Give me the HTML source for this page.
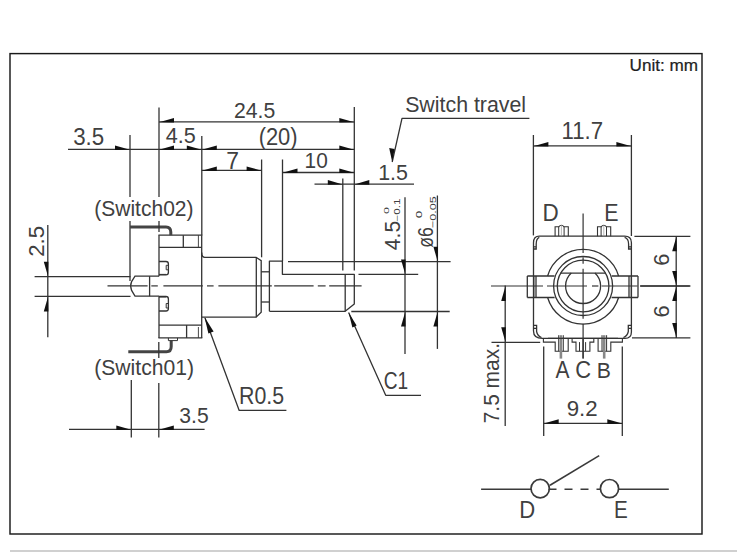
<!DOCTYPE html>
<html><head><meta charset="utf-8"><style>
html,body{margin:0;padding:0;background:#fff;overflow:hidden;}
svg{display:block;}
text{font-family:"Liberation Sans",sans-serif;}
</style></head><body>
<svg width="750" height="558" viewBox="0 0 750 558">
<rect x="0" y="0" width="750" height="558" fill="#fff"/>
<rect x="10" y="53.6" width="692" height="480.4" fill="none" stroke="#1a1a1a" stroke-width="1.45"/>
<line x1="10" y1="551" x2="737" y2="551" stroke="#d0d0d0" stroke-width="2.2" />
<text transform="translate(629.57,71.34) scale(1.0671,1)" font-size="16.06" fill="#1e1e1e" stroke="#1e1e1e" stroke-width="0.22">Unit: mm</text>
<line x1="107.5" y1="285.9" x2="147.6" y2="285.9" stroke="#333" stroke-width="1.2" />
<line x1="151.3" y1="285.9" x2="157.8" y2="285.9" stroke="#333" stroke-width="1.2" />
<line x1="163.4" y1="285.9" x2="202.8" y2="285.9" stroke="#333" stroke-width="1.2" />
<line x1="207" y1="285.9" x2="213.6" y2="285.9" stroke="#333" stroke-width="1.2" />
<line x1="218.4" y1="285.9" x2="271.8" y2="285.9" stroke="#333" stroke-width="1.2" />
<line x1="274.2" y1="285.9" x2="313.6" y2="285.9" stroke="#333" stroke-width="1.2" />
<line x1="317.8" y1="285.9" x2="325.6" y2="285.9" stroke="#333" stroke-width="1.2" />
<line x1="329.2" y1="285.9" x2="361.6" y2="285.9" stroke="#333" stroke-width="1.2" />
<path d="M159,276.2 H135 L131.6,281.6 Q129.8,285.9 131.6,290.4 L135,296.2 H159" fill="none" stroke="#333" stroke-width="1.3" />
<line x1="149.6" y1="276.2" x2="149.6" y2="296.2" stroke="#333" stroke-width="1.3" />
<line x1="159" y1="235.2" x2="159" y2="276.2" stroke="#333" stroke-width="1.3" />
<line x1="159" y1="296.2" x2="159" y2="337.9" stroke="#333" stroke-width="1.3" />
<line x1="201.7" y1="235.2" x2="201.7" y2="337.9" stroke="#333" stroke-width="1.3" />
<line x1="158.4" y1="235.2" x2="202.3" y2="235.2" stroke="#333" stroke-width="1.3" />
<line x1="159" y1="247.3" x2="201.7" y2="247.3" stroke="#333" stroke-width="1.3" />
<line x1="183.3" y1="235.2" x2="183.3" y2="247.3" stroke="#333" stroke-width="1.3" />
<line x1="198.4" y1="235.2" x2="198.4" y2="247.3" stroke="#333" stroke-width="0.9" />
<line x1="159" y1="325.1" x2="201.7" y2="325.1" stroke="#333" stroke-width="1.3" />
<line x1="158.4" y1="337.9" x2="202.3" y2="337.9" stroke="#333" stroke-width="1.3" />
<line x1="186.6" y1="325.1" x2="186.6" y2="337.9" stroke="#333" stroke-width="1.3" />
<line x1="198.4" y1="327" x2="198.4" y2="337.9" stroke="#333" stroke-width="0.9" />
<path d="M159,261.5 H166 Q168.4,261.5 168.4,264 V272.3 Q168.4,274.9 166,274.9 H159" fill="none" stroke="#333" stroke-width="1.3" />
<line x1="159" y1="274.4" x2="166" y2="274.4" stroke="#333" stroke-width="1" />
<path d="M168.4,265.3 H166.2 V269.8 H168.4" fill="none" stroke="#333" stroke-width="1" />
<path d="M159,296.5 H166 Q168.4,296.5 168.4,299 V308.5 Q168.4,311 166,311 H159" fill="none" stroke="#333" stroke-width="1.3" />
<line x1="159" y1="297" x2="166" y2="297" stroke="#333" stroke-width="1" />
<path d="M168.4,303.5 H166.2 V308 H168.4" fill="none" stroke="#333" stroke-width="1" />
<path d="M130.2,226.9 L166,226.9 Q170.8,226.9 170.8,232 L170.8,235.2" fill="none" stroke="#444" stroke-width="3.0" />
<path d="M128.3,351.8 L166.5,351.8 Q171.2,351.8 171.2,346.5 L171.2,340.5" fill="none" stroke="#444" stroke-width="3.0" />
<polyline points="168.4,337.9 168.4,340.6 177.5,340.6 177.5,337.9" fill="none" stroke="#333" stroke-width="1" stroke-linejoin="round" />
<path d="M201.7,252.6 Q201.7,257.3 204.7,257.3 L256.1,257.3 L261.2,260.7 L261.2,312.3 L256.1,317.2 L201.7,317.2" fill="none" stroke="#333" stroke-width="1.3" />
<line x1="256.3" y1="257.3" x2="256.3" y2="317.2" stroke="#333" stroke-width="1.3" />
<line x1="261.2" y1="271.8" x2="269.4" y2="271.8" stroke="#333" stroke-width="1.3" />
<line x1="261.2" y1="302" x2="269.4" y2="302" stroke="#333" stroke-width="1.3" />
<polyline points="269.4,311.3 269.4,261.1 282.4,261.1 282.4,274.3 354.3,274.3 354.3,304 345.2,311.3 269.4,311.3" fill="none" stroke="#333" stroke-width="1.3" stroke-linejoin="round" />
<line x1="345.2" y1="274.3" x2="345.2" y2="311.3" stroke="#333" stroke-width="1.3" />
<line x1="130" y1="135" x2="130" y2="197" stroke="#333" stroke-width="1.3" />
<line x1="130" y1="221" x2="130" y2="281" stroke="#333" stroke-width="1.3" />
<line x1="159" y1="107.6" x2="159" y2="197" stroke="#333" stroke-width="1.3" />
<line x1="159" y1="221" x2="159" y2="232" stroke="#333" stroke-width="1.3" />
<line x1="201.8" y1="136" x2="201.8" y2="235.2" stroke="#333" stroke-width="1.3" />
<line x1="261.6" y1="159.5" x2="261.6" y2="257.3" stroke="#333" stroke-width="1.3" />
<line x1="282.5" y1="159.5" x2="282.5" y2="261.1" stroke="#333" stroke-width="1.3" />
<line x1="342.8" y1="178.4" x2="342.8" y2="270.5" stroke="#333" stroke-width="1.3" />
<line x1="354.3" y1="107" x2="354.3" y2="270.5" stroke="#333" stroke-width="1.3" />
<line x1="288" y1="261.7" x2="450.6" y2="261.7" stroke="#333" stroke-width="1.3" />
<line x1="358.5" y1="274.4" x2="418.2" y2="274.4" stroke="#333" stroke-width="1.3" />
<line x1="351.3" y1="311.5" x2="449.7" y2="311.5" stroke="#333" stroke-width="1.3" />
<line x1="34.6" y1="276.7" x2="130.5" y2="276.7" stroke="#333" stroke-width="1.3" />
<line x1="34.6" y1="296.4" x2="130.5" y2="296.4" stroke="#333" stroke-width="1.3" />
<line x1="47.8" y1="225" x2="47.8" y2="337.3" stroke="#333" stroke-width="1.3" />
<line x1="131.3" y1="380" x2="131.3" y2="437.4" stroke="#333" stroke-width="1.3" />
<line x1="158.8" y1="342" x2="158.8" y2="358" stroke="#333" stroke-width="1.3" />
<line x1="158.8" y1="383" x2="158.8" y2="437.4" stroke="#333" stroke-width="1.3" />
<line x1="159" y1="121.9" x2="354.3" y2="121.9" stroke="#333" stroke-width="1.3" />
<polygon points="174.00,117.90 159.00,122.20 174.00,122.50" fill="#111"/>
<polygon points="339.30,117.90 354.30,122.20 339.30,122.50" fill="#111"/>
<text transform="translate(233.94,118.00) scale(0.9236,1)" font-size="22.94" fill="#404040" >24.5</text>
<line x1="68" y1="149.4" x2="354.3" y2="149.4" stroke="#333" stroke-width="1.3" />
<polygon points="115.00,145.40 130.00,149.70 115.00,150.00" fill="#111"/>
<polygon points="174.00,145.40 159.00,149.70 174.00,150.00" fill="#111"/>
<polygon points="186.80,145.40 201.80,149.70 186.80,150.00" fill="#111"/>
<polygon points="216.80,145.40 201.80,149.70 216.80,150.00" fill="#111"/>
<polygon points="339.30,145.40 354.30,149.70 339.30,150.00" fill="#111"/>
<text transform="translate(73.16,145.27) scale(0.9572,1)" font-size="23.32" fill="#404040" >3.5</text>
<text transform="translate(165.81,143.07) scale(0.9560,1)" font-size="22.61" fill="#404040" >4.5</text>
<text transform="translate(258.63,145.47) scale(0.9462,1)" font-size="23.18" fill="#404040" >(20)</text>
<line x1="201.8" y1="170.4" x2="261.6" y2="170.4" stroke="#333" stroke-width="1.3" />
<polygon points="216.80,166.40 201.80,170.70 216.80,171.00" fill="#111"/>
<polygon points="246.60,166.40 261.60,170.70 246.60,171.00" fill="#111"/>
<text transform="translate(226.16,168.50) scale(0.9821,1)" font-size="23.27" fill="#404040" >7</text>
<line x1="282.5" y1="172.5" x2="354.3" y2="172.5" stroke="#333" stroke-width="1.3" />
<polygon points="297.50,168.50 282.50,172.80 297.50,173.10" fill="#111"/>
<polygon points="339.30,168.50 354.30,172.80 339.30,173.10" fill="#111"/>
<text transform="translate(304.54,168.27) scale(0.9107,1)" font-size="22.90" fill="#404040" >10</text>
<line x1="314.5" y1="184.1" x2="414" y2="184.1" stroke="#333" stroke-width="1.3" />
<polygon points="327.80,180.10 342.80,184.40 327.80,184.70" fill="#111"/>
<polygon points="369.30,180.10 354.30,184.40 369.30,184.70" fill="#111"/>
<text transform="translate(378.19,179.67) scale(0.9393,1)" font-size="22.80" fill="#404040" >1.5</text>
<polyline points="529.4,118.4 402,118.4 392.2,162" fill="none" stroke="#333" stroke-width="1.3" stroke-linejoin="round" />
<polygon points="389.20,148.00 392.20,162.00 394.60,149.00" fill="#111"/>
<text transform="translate(405.14,112.48) scale(0.9812,1)" font-size="21.77" fill="#404040" >Switch travel</text>
<polygon points="43.80,261.70 48.10,276.70 48.40,261.70" fill="#111"/>
<polygon points="43.80,311.40 48.10,296.40 48.40,311.40" fill="#111"/>
<text transform="translate(43.50,256.82) rotate(-90) scale(1.0104,1)" font-size="22.08" fill="#404040" >2.5</text>
<line x1="405" y1="197.2" x2="405" y2="354" stroke="#333" stroke-width="1.3" />
<polygon points="401.00,259.40 405.30,274.40 405.60,259.40" fill="#111"/>
<polygon points="401.00,326.50 405.30,311.50 405.60,326.50" fill="#111"/>
<text transform="translate(400.10,250.17) rotate(-90) scale(0.9603,1)" font-size="21.96" fill="#404040" >4.5</text>
<text transform="translate(388.92,214.10) rotate(-90) scale(0.3141,0.2014)" font-size="40" fill="#404040" >0</text>
<text transform="translate(400.02,221.59) rotate(-90) scale(1.4313,1)" font-size="8.20" fill="#404040" >−0.1</text>
<line x1="437.4" y1="195.5" x2="437.4" y2="348.9" stroke="#333" stroke-width="1.3" />
<polygon points="433.40,246.70 437.70,261.70 438.00,246.70" fill="#111"/>
<polygon points="433.40,326.50 437.70,311.50 438.00,326.50" fill="#111"/>
<text transform="translate(432.59,247.79) rotate(-90) scale(0.8167,1)" font-size="21.48" fill="#404040" >ø6</text>
<text transform="translate(422.11,218.14) rotate(-90) scale(0.3351,0.2191)" font-size="40" fill="#404040" >0</text>
<text transform="translate(435.61,228.13) rotate(-90) scale(1.3954,1)" font-size="9.05" fill="#404040" >−0.05</text>
<text transform="translate(94.18,215.68) scale(0.9423,1)" font-size="22.33" fill="#404040" >(Switch02)</text>
<text transform="translate(94.18,375.27) scale(0.9286,1)" font-size="22.76" fill="#404040" >(Switch01)</text>
<line x1="69" y1="429.4" x2="204.6" y2="429.4" stroke="#333" stroke-width="1.3" />
<polygon points="116.30,425.40 131.30,429.70 116.30,430.00" fill="#111"/>
<polygon points="173.80,425.40 158.80,429.70 173.80,430.00" fill="#111"/>
<text transform="translate(179.31,422.77) scale(0.9217,1)" font-size="22.90" fill="#404040" >3.5</text>
<polyline points="286.4,410.4 239.2,410.4 205,318" fill="none" stroke="#333" stroke-width="1.3" stroke-linejoin="round" />
<polygon points="204.60,317.30 213.60,331.50 208.40,333.40" fill="#111"/>
<text transform="translate(239.04,404.17) scale(0.9203,1)" font-size="23.18" fill="#404040" >R0.5</text>
<polyline points="421,395.3 385.7,395.3 348.6,312.6" fill="none" stroke="#333" stroke-width="1.3" stroke-linejoin="round" />
<polygon points="348.60,312.60 356.60,325.60 352.40,327.40" fill="#111"/>
<text transform="translate(383.74,389.07) scale(0.8163,1)" font-size="23.46" fill="#404040" >C1</text>
<line x1="491" y1="286" x2="543" y2="286" stroke="#333" stroke-width="1.2" />
<line x1="547" y1="286" x2="587" y2="286" stroke="#333" stroke-width="1.2" />
<line x1="592" y1="286" x2="598.4" y2="286" stroke="#333" stroke-width="1.2" />
<line x1="601.6" y1="286" x2="637.6" y2="286" stroke="#333" stroke-width="1.2" />
<line x1="640" y1="286" x2="689.6" y2="286" stroke="#333" stroke-width="1.2" />
<line x1="583.1" y1="213.6" x2="583.1" y2="253" stroke="#333" stroke-width="1.2" />
<line x1="583.1" y1="257.3" x2="583.1" y2="263.8" stroke="#333" stroke-width="1.2" />
<line x1="583.1" y1="268.8" x2="583.1" y2="318.7" stroke="#333" stroke-width="1.2" />
<line x1="583.1" y1="323.7" x2="583.1" y2="358.5" stroke="#333" stroke-width="1.2" />
<path d="M539.3,236.2 L624.6,236.2 Q631.4,236.2 631.4,242.5 L631.4,332 Q631.4,338.4 625,338.4 L542.3,338.4 Q533.5,338.4 533.5,331 L533.5,242.8 Q533.5,236.2 539.3,236.2 Z" fill="none" stroke="#333" stroke-width="1.3" />
<path d="M539.3,237.3 Q536.2,238.6 536.2,244 L536.2,249 L533.5,249 M533.5,246.9 L536.2,246.9" fill="none" stroke="#333" stroke-width="1.3" />
<path d="M624.6,237.3 Q628.6,238.6 628.6,244 L628.6,249 L631.4,249 M631.4,246.9 L628.6,246.9" fill="none" stroke="#333" stroke-width="1.3" />
<path d="M533.5,325.3 L536.6,325.3 L536.6,331.5 Q537.5,336 541.5,337.5 M533.5,328.4 L536.6,328.4" fill="none" stroke="#333" stroke-width="1.3" />
<path d="M631.4,325.3 L628.3,325.3 L628.3,331.5 Q627.4,336 623.4,337.5 M631.4,328.4 L628.3,328.4" fill="none" stroke="#333" stroke-width="1.3" />
<path d="M555.1,236.2 V226.8 H558.7 Q561.4,223.6 564.1,226.8 H568.3000000000001 V236.2" fill="none" stroke="#333" stroke-width="1.1" />
<line x1="558.7" y1="226.8" x2="558.7" y2="236.2" stroke="#333" stroke-width="1" />
<line x1="564.1" y1="226.8" x2="564.1" y2="236.2" stroke="#333" stroke-width="1" />
<line x1="561.4" y1="225" x2="561.4" y2="236.2" stroke="#999" stroke-width="0.7" />
<path d="M597.5,236.2 V226.8 H601.1 Q603.8,223.6 606.5,226.8 H610.7 V236.2" fill="none" stroke="#333" stroke-width="1.1" />
<line x1="601.1" y1="226.8" x2="601.1" y2="236.2" stroke="#333" stroke-width="1" />
<line x1="606.5" y1="226.8" x2="606.5" y2="236.2" stroke="#333" stroke-width="1" />
<line x1="603.8" y1="225" x2="603.8" y2="236.2" stroke="#999" stroke-width="0.7" />
<path d="M543.4,338.4 V342.1 H555.2 V351.2 H568.2 V338.4" fill="none" stroke="#333" stroke-width="1.1" />
<path d="M572.1,338.4 V342.1 H576 V351.2 H589.9 V342.1 H593.8 V338.4" fill="none" stroke="#333" stroke-width="1.1" />
<path d="M598.1,338.4 V351.2 H610.8 V342.1 H622.4 V338.4" fill="none" stroke="#333" stroke-width="1.1" />
<line x1="560.9" y1="335.2" x2="560.9" y2="358.6" stroke="#888" stroke-width="2.6" />
<line x1="558.6999999999999" y1="335.2" x2="558.6999999999999" y2="351.2" stroke="#333" stroke-width="1.0" />
<line x1="563.3" y1="335.2" x2="563.3" y2="351.2" stroke="#333" stroke-width="1.0" />
<line x1="604.2" y1="335.2" x2="604.2" y2="358.6" stroke="#888" stroke-width="2.6" />
<line x1="602.0" y1="335.2" x2="602.0" y2="351.2" stroke="#333" stroke-width="1.0" />
<line x1="606.6" y1="335.2" x2="606.6" y2="351.2" stroke="#333" stroke-width="1.0" />
<line x1="583.1" y1="338.4" x2="583.1" y2="358.6" stroke="#333" stroke-width="1.3" />
<line x1="548" y1="338.4" x2="618" y2="338.4" stroke="#333" stroke-width="1.3" />
<line x1="579.5" y1="342.1" x2="579.5" y2="351.2" stroke="#333" stroke-width="1" />
<line x1="585.6" y1="342.1" x2="585.6" y2="351.2" stroke="#333" stroke-width="1" />
<path d="M547.6,276 A37,37 0 0 1 618.6,276 M547.6,297.5 A37,37 0 0 0 618.6,297.5" fill="none" stroke="#333" stroke-width="1.3"/>
<path d="M527.3,276 L554.6,276 M527.3,297.5 L554.6,297.5 M527.3,276 L527.3,297.5 M533.8,276 L533.8,297.5 M536.0,276 L536.0,297.5" fill="none" stroke="#333" stroke-width="1.3" />
<path d="M611.6,276 L638,276 M611.6,297.5 L638,297.5 M638,276 L638,297.5 M631.4,276 L631.4,297.5 M629.0,276 L629.0,297.5" fill="none" stroke="#333" stroke-width="1.3" />
<circle cx="583.1" cy="286" r="29.5" fill="none" stroke="#333" stroke-width="1.3"/>
<circle cx="583.1" cy="286" r="25.8" fill="none" stroke="#333" stroke-width="1.3"/>
<line x1="560.3" y1="273.1" x2="605.9" y2="273.1" stroke="#333" stroke-width="1.3" />
<path d="M571.3,273.1 A17.5,17.5 0 1 0 594.9,273.1" fill="none" stroke="#333" stroke-width="1.3"/>
<text transform="translate(542.55,220.90) scale(0.9468,1)" font-size="23.71" fill="#404040" >D</text>
<text transform="translate(604.14,220.90) scale(0.9019,1)" font-size="23.71" fill="#404040" >E</text>
<text transform="translate(555.55,377.50) scale(0.9015,1)" font-size="23.27" fill="#404040" >A</text>
<text transform="translate(575.31,377.77) scale(0.9386,1)" font-size="23.32" fill="#404040" >C</text>
<text transform="translate(596.75,377.50) scale(0.9292,1)" font-size="22.84" fill="#404040" >B</text>
<line x1="533.4" y1="135" x2="533.4" y2="235.4" stroke="#333" stroke-width="1.3" />
<line x1="631.4" y1="135" x2="631.4" y2="236" stroke="#333" stroke-width="1.3" />
<line x1="533.4" y1="145.9" x2="631.4" y2="145.9" stroke="#333" stroke-width="1.3" />
<polygon points="548.40,141.90 533.40,146.20 548.40,146.50" fill="#111"/>
<polygon points="616.40,141.90 631.40,146.20 616.40,146.50" fill="#111"/>
<text transform="translate(561.43,138.50) scale(0.9495,1)" font-size="23.42" fill="#404040" >11.7</text>
<line x1="634.4" y1="236.3" x2="690.4" y2="236.3" stroke="#333" stroke-width="1.3" />
<line x1="640.3" y1="286" x2="690.4" y2="286" stroke="#333" stroke-width="1.3" />
<line x1="632" y1="337.9" x2="690.4" y2="337.9" stroke="#333" stroke-width="1.3" />
<line x1="676.2" y1="236.3" x2="676.2" y2="337.9" stroke="#333" stroke-width="1.3" />
<polygon points="672.20,251.30 676.50,236.30 676.80,251.30" fill="#111"/>
<polygon points="672.20,271.00 676.50,286.00 676.80,271.00" fill="#111"/>
<polygon points="672.20,301.00 676.50,286.00 676.80,301.00" fill="#111"/>
<polygon points="672.20,322.90 676.50,337.90 676.80,322.90" fill="#111"/>
<text transform="translate(669.28,265.69) rotate(-90) scale(0.9968,1)" font-size="21.91" fill="#404040" >6</text>
<text transform="translate(669.28,317.39) rotate(-90) scale(0.9968,1)" font-size="21.91" fill="#404040" >6</text>
<line x1="491.5" y1="342.3" x2="540.2" y2="342.3" stroke="#333" stroke-width="1.3" />
<line x1="505.2" y1="285.5" x2="505.2" y2="426" stroke="#333" stroke-width="1.3" />
<polygon points="501.20,301.00 505.50,286.00 505.80,301.00" fill="#111"/>
<polygon points="501.20,327.30 505.50,342.30 505.80,327.30" fill="#111"/>
<text transform="translate(498.60,423.35) rotate(-90) scale(0.9425,1)" font-size="22.25" fill="#404040" >7.5 max.</text>
<line x1="543.7" y1="346.4" x2="543.7" y2="436" stroke="#333" stroke-width="1.3" />
<line x1="622.3" y1="346.4" x2="622.3" y2="436" stroke="#333" stroke-width="1.3" />
<line x1="543.7" y1="423.3" x2="622.3" y2="423.3" stroke="#333" stroke-width="1.3" />
<polygon points="558.70,419.30 543.70,423.60 558.70,423.90" fill="#111"/>
<polygon points="607.30,419.30 622.30,423.60 607.30,423.90" fill="#111"/>
<text transform="translate(566.74,415.58) scale(0.9915,1)" font-size="22.47" fill="#404040" >9.2</text>
<line x1="481.1" y1="489.3" x2="531" y2="489.3" stroke="#3a3a3a" stroke-width="1.6" />
<line x1="618.6" y1="489.3" x2="668.8" y2="489.3" stroke="#3a3a3a" stroke-width="1.6" />
<circle cx="540.2" cy="488.6" r="9.2" fill="none" stroke="#3a3a3a" stroke-width="1.7"/>
<circle cx="609.5" cy="488.6" r="9.1" fill="none" stroke="#3a3a3a" stroke-width="1.7"/>
<line x1="550" y1="485.2" x2="599.2" y2="455.6" stroke="#3a3a3a" stroke-width="1.6" />
<line x1="548.5" y1="489.3" x2="600.4" y2="489.3" stroke="#3a3a3a" stroke-width="1.6" stroke-dasharray="8 8"/>
<text transform="translate(519.28,518.00) scale(0.9500,1)" font-size="23.27" fill="#404040" >D</text>
<text transform="translate(614.10,518.00) scale(0.8871,1)" font-size="23.27" fill="#404040" >E</text>
</svg></body></html>
